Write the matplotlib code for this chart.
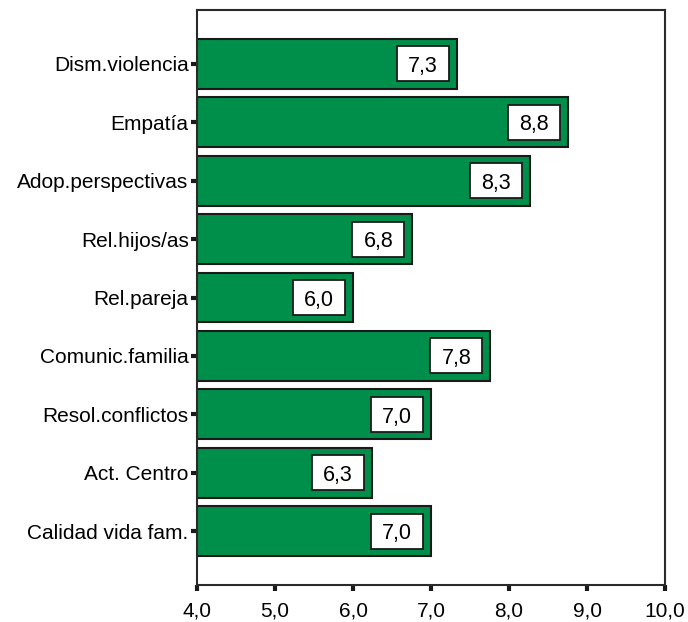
import numpy as np
import matplotlib
matplotlib.use("Agg")
import matplotlib.pyplot as plt
from matplotlib.patches import Rectangle

plt.rcParams["font.family"] = ["Liberation Sans", "DejaVu Sans"]

categories = ["Calidad vida fam.", "Act. Centro", "Resol.conflictos", "Comunic.familia",
              "Rel.pareja", "Rel.hijos/as", "Adop.perspectivas", "Empatía", "Dism.violencia"]
values = [7.0, 6.24, 7.0, 7.76, 6.0, 6.76, 8.27, 8.76, 7.33]
labels = ["7,0", "6,3", "7,0", "7,8", "6,0", "6,8", "8,3", "8,8", "7,3"]
xticks = [4, 5, 6, 7, 8, 9, 10]
xticklabels = ["4,0", "5,0", "6,0", "7,0", "8,0", "9,0", "10,0"]

fig = plt.figure(figsize=(6.88, 6.22), dpi=100)
ax = fig.add_axes([197 / 688, 1 - 585 / 622, (665 - 197) / 688, (585 - 10) / 622])

y = np.arange(len(categories))
ax.barh(y, np.array(values) - 4, left=4, height=0.855, color="#008f4a",
        edgecolor="#1a1a1a", linewidth=1.5, zorder=2)

# white value boxes, sized in data units (approx 52x35 px)
box_w, box_h, gap = 0.67, 0.6, 0.1
for yi, v, lab in zip(y, values, labels):
    ax.add_patch(Rectangle((v - gap - box_w, yi - box_h / 2), box_w, box_h,
                           fc="white", ec="#1a1a1a", lw=1.3, zorder=3))
    ax.text(v - gap - box_w / 2, yi - 0.14, lab, ha="center", va="baseline",
            fontsize=15.5, zorder=4)

ax.set_xlim(4, 10)
ax.set_ylim(-0.92, 8.92)
ax.set_xticks(xticks)
ax.set_xticklabels(xticklabels, fontsize=15)
ax.set_yticks(y)
ax.set_yticklabels(categories, fontsize=15)
ax.tick_params(axis="both", direction="out", length=4, width=3, color="#1a1a1a")
ax.tick_params(axis="y", pad=2)
ax.tick_params(axis="x", pad=8)
for s in ax.spines.values():
    s.set_linewidth(1.5)
    s.set_color("#2a2a2a")

fig.savefig("out.png", dpi=100)
